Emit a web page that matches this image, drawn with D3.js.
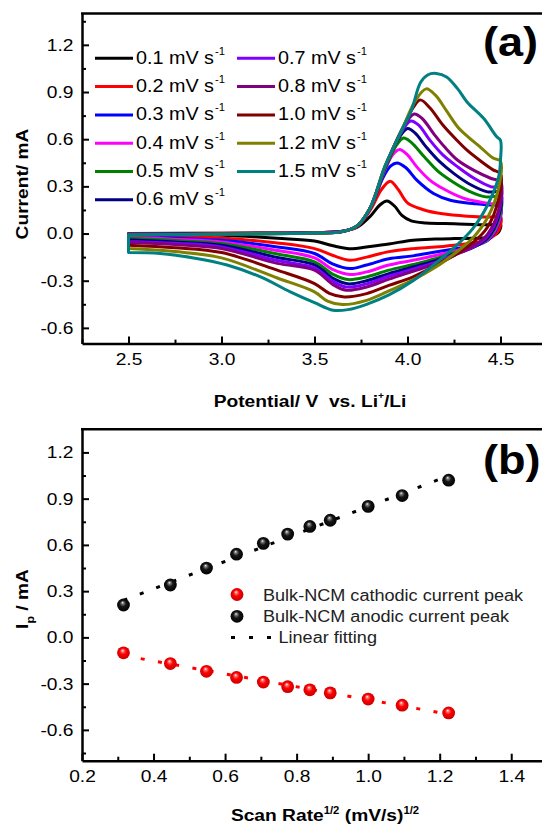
<!DOCTYPE html>
<html>
<head>
<meta charset="utf-8">
<script src="https://cdn.jsdelivr.net/npm/d3@7"></script>
<style>
  body { margin: 0; background: #fff; }
  svg { display: block; }
</style>
</head>
<body>
<svg id="chart" width="542" height="827"></svg>
<script>
'use strict';

// ---- data: panel (a) cyclic voltammograms, [potential V, current mA]
// each loop: anodic sweep 2.5 -> 4.5 V, then cathodic sweep back to 2.5 V
const cv01 = [[2.5,0.000],[3.0,0.002],[3.5,0.006],[3.65,0.014],[3.73,0.04],[3.8,0.11],[3.85,0.18],[3.89,0.207],[3.93,0.175],[3.97,0.115],[4.02,0.08],[4.1,0.067],[4.25,0.062],[4.45,0.056],[4.5,0.06],
  [4.49,0.01],[4.43,-0.025],[4.35,-0.03],[4.25,-0.032],[4.15,-0.035],[4.03,-0.042],[3.9,-0.066],[3.78,-0.085],[3.7,-0.097],[3.6,-0.078],[3.5,-0.048],[3.3,-0.03],[3.0,-0.011],[2.75,-0.008],[2.5,-0.005]];
const cv02 = [[2.5,-0.001],[3.0,0.002],[3.5,0.006],[3.65,0.015],[3.73,0.045],[3.8,0.15],[3.86,0.28],[3.907,0.333],[3.95,0.28],[4.0,0.195],[4.09,0.15],[4.18,0.127],[4.32,0.11],[4.45,0.105],[4.5,0.11],
  [4.49,0.02],[4.43,-0.04],[4.35,-0.06],[4.25,-0.074],[4.15,-0.086],[4.03,-0.096],[3.9,-0.115],[3.78,-0.15],[3.69,-0.17],[3.6,-0.14],[3.5,-0.096],[3.3,-0.06],[3.0,-0.028],[2.75,-0.018],[2.5,-0.011]];
const cv03 = [[2.5,-0.002],[3.0,0.001],[3.5,0.005],[3.65,0.014],[3.73,0.047],[3.8,0.16],[3.87,0.36],[3.91,0.43],[3.943,0.449],[3.99,0.42],[4.05,0.34],[4.14,0.255],[4.23,0.212],[4.36,0.19],[4.46,0.18],[4.5,0.185],
  [4.49,0.06],[4.43,-0.045],[4.35,-0.078],[4.25,-0.098],[4.15,-0.118],[4.03,-0.142],[3.9,-0.16],[3.78,-0.2],[3.69,-0.223],[3.6,-0.195],[3.5,-0.127],[3.3,-0.085],[3.0,-0.043],[2.75,-0.028],[2.5,-0.017]];
const cv04 = [[2.5,-0.003],[3.0,0.0],[3.5,0.005],[3.65,0.014],[3.73,0.048],[3.8,0.163],[3.87,0.38],[3.92,0.5],[3.957,0.535],[4.0,0.5],[4.05,0.424],[4.12,0.34],[4.19,0.286],[4.3,0.225],[4.39,0.201],[4.46,0.19],[4.5,0.2],
  [4.49,0.07],[4.43,-0.04],[4.35,-0.085],[4.25,-0.112],[4.15,-0.14],[4.03,-0.17],[3.9,-0.2],[3.78,-0.244],[3.69,-0.261],[3.6,-0.23],[3.5,-0.155],[3.3,-0.108],[3.0,-0.053],[2.75,-0.036],[2.5,-0.024]];
const cv05 = [[2.5,-0.004],[3.0,0.0],[3.5,0.005],[3.65,0.013],[3.73,0.048],[3.8,0.164],[3.88,0.41],[3.94,0.56],[3.979,0.608],[4.02,0.58],[4.09,0.488],[4.16,0.4],[4.23,0.339],[4.33,0.27],[4.42,0.233],[4.5,0.23],
  [4.49,0.09],[4.43,-0.035],[4.35,-0.088],[4.25,-0.122],[4.15,-0.16],[4.03,-0.197],[3.9,-0.233],[3.78,-0.276],[3.68,-0.293],[3.6,-0.26],[3.5,-0.18],[3.3,-0.13],[3.0,-0.064],[2.75,-0.045],[2.5,-0.032]];
const cv06 = [[2.5,-0.005],[3.0,-0.001],[3.5,0.004],[3.65,0.013],[3.73,0.049],[3.8,0.165],[3.88,0.42],[3.95,0.6],[4.0,0.668],[4.04,0.64],[4.1,0.551],[4.17,0.46],[4.25,0.381],[4.34,0.31],[4.43,0.265],[4.5,0.26],
  [4.49,0.11],[4.43,-0.028],[4.35,-0.09],[4.25,-0.13],[4.15,-0.172],[4.03,-0.213],[3.9,-0.255],[3.78,-0.3],[3.68,-0.32],[3.6,-0.285],[3.5,-0.2],[3.3,-0.152],[3.0,-0.074],[2.75,-0.054],[2.5,-0.04]];
const cv07 = [[2.5,-0.006],[3.0,-0.002],[3.5,0.004],[3.65,0.012],[3.73,0.049],[3.8,0.165],[3.88,0.42],[3.96,0.63],[4.017,0.716],[4.06,0.69],[4.12,0.594],[4.19,0.5],[4.27,0.424],[4.36,0.35],[4.45,0.297],[4.5,0.29],
  [4.49,0.13],[4.43,-0.018],[4.35,-0.088],[4.25,-0.135],[4.15,-0.183],[4.03,-0.227],[3.9,-0.272],[3.78,-0.32],[3.67,-0.34],[3.6,-0.305],[3.5,-0.219],[3.3,-0.172],[3.0,-0.085],[2.75,-0.062],[2.5,-0.05]];
const cv08 = [[2.5,-0.007],[3.0,-0.002],[3.5,0.004],[3.65,0.012],[3.73,0.05],[3.8,0.165],[3.88,0.42],[3.97,0.66],[4.035,0.76],[4.08,0.73],[4.14,0.636],[4.2,0.55],[4.27,0.466],[4.36,0.4],[4.45,0.35],[4.5,0.33],
  [4.49,0.15],[4.43,-0.005],[4.35,-0.082],[4.25,-0.14],[4.15,-0.193],[4.03,-0.24],[3.9,-0.29],[3.78,-0.34],[3.67,-0.36],[3.6,-0.325],[3.5,-0.233],[3.3,-0.19],[3.0,-0.095],[2.75,-0.07],[2.5,-0.057]];
const cv10 = [[2.5,-0.008],[3.0,-0.003],[3.5,0.003],[3.65,0.012],[3.73,0.05],[3.8,0.165],[3.88,0.43],[3.97,0.66],[4.03,0.8],[4.068,0.85],[4.12,0.8],[4.19,0.69],[4.26,0.6],[4.32,0.53],[4.4,0.455],[4.46,0.405],[4.5,0.38],
  [4.49,0.22],[4.43,0.04],[4.35,-0.06],[4.25,-0.14],[4.15,-0.205],[4.03,-0.275],[3.9,-0.33],[3.78,-0.382],[3.66,-0.403],[3.58,-0.38],[3.5,-0.318],[3.3,-0.233],[3.0,-0.121],[2.75,-0.09],[2.5,-0.074]];
const cv12 = [[2.5,-0.009],[3.0,-0.003],[3.5,0.003],[3.65,0.012],[3.73,0.05],[3.8,0.165],[3.88,0.43],[3.97,0.66],[4.04,0.84],[4.1,0.92],[4.15,0.88],[4.21,0.78],[4.27,0.678],[4.33,0.61],[4.39,0.551],[4.46,0.48],[4.5,0.46],
  [4.49,0.29],[4.43,0.1],[4.35,-0.03],[4.25,-0.13],[4.15,-0.215],[4.03,-0.295],[3.9,-0.365],[3.78,-0.425],[3.65,-0.452],[3.57,-0.43],[3.5,-0.371],[3.3,-0.283],[3.0,-0.155],[2.75,-0.115],[2.5,-0.095]];
const cv15 = [[2.5,-0.01],[3.0,-0.004],[3.5,0.003],[3.65,0.012],[3.73,0.05],[3.8,0.165],[3.88,0.43],[3.97,0.66],[4.02,0.78],[4.07,0.96],[4.11,1.01],[4.155,1.018],[4.21,0.996],[4.27,0.92],[4.32,0.837],[4.41,0.731],[4.48,0.615],[4.5,0.593],
  [4.5,0.47],[4.49,0.36],[4.43,0.18],[4.35,0.03],[4.25,-0.09],[4.15,-0.19],[4.03,-0.3],[3.9,-0.39],[3.78,-0.45],[3.68,-0.484],[3.6,-0.488],[3.5,-0.44],[3.37,-0.371],[3.21,-0.276],[3.03,-0.2],[2.85,-0.155],[2.67,-0.127],[2.5,-0.121]];

const cvLoops = [cv01, cv02, cv03, cv04, cv05, cv06, cv07, cv08, cv10, cv12, cv15];
const scanRates = ["0.1", "0.2", "0.3", "0.4", "0.5", "0.6", "0.7", "0.8", "1.0", "1.2", "1.5"];
const cvColors = ["#000000", "#ff0000", "#0000ff", "#ff00ff", "#008000", "#000080",
                  "#8000ff", "#800080", "#800000", "#808000", "#008080"];

// ---- data: panel (b) peak currents vs sqrt(scan rate)
const sqrtRate = [0.316, 0.447, 0.548, 0.632, 0.707, 0.775, 0.837, 0.894, 1.0, 1.095, 1.225];
const anodicPeak = [0.21, 0.34, 0.45, 0.54, 0.61, 0.67, 0.72, 0.76, 0.85, 0.92, 1.02];
const cathodicPeak = [-0.10, -0.17, -0.22, -0.26, -0.29, -0.32, -0.34, -0.36, -0.40, -0.44, -0.49];

// ---- ticks
const aTicksX = [2.5, 3.0, 3.5, 4.0, 4.5];
const aMinorX = [2.25, 2.75, 3.25, 3.75, 4.25];
const bTicksX = [0.2, 0.4, 0.6, 0.8, 1.0, 1.2, 1.4];
const bMinorX = [0.3, 0.5, 0.7, 0.9, 1.1, 1.3];
const ticksY = [-0.6, -0.3, 0.0, 0.3, 0.6, 0.9, 1.2];
const minorY = [-0.45, -0.15, 0.15, 0.45, 0.75, 1.05, 1.35];
const bMinorY = [-0.75, -0.45, -0.15, 0.15, 0.45, 0.75, 1.05];

const FONT = "'Liberation Sans', Arial, Helvetica, sans-serif";
const SX = 1.13; // the figure's lettering is a bit wider than plain Arial

const svg = d3.select("#chart");
const defs = svg.append("defs");

function grad(id, stops) {
    const g = defs.append("radialGradient").attr("id", id)
        .attr("cx", "50%").attr("cy", "50%").attr("r", "55%")
        .attr("fx", "42%").attr("fy", "30%");
    stops.forEach(function (s) {
        g.append("stop").attr("offset", s[0]).attr("stop-color", s[1]);
    });
}
grad("ballRed", [["0%", "#ffffff"], ["18%", "#ff7070"], ["45%", "#ff0000"], ["100%", "#c00000"]]);
grad("ballBlack", [["0%", "#eeeeee"], ["18%", "#777777"], ["45%", "#151515"], ["100%", "#000000"]]);

// text helper: wide lettering, optionally rotated
function label(parent, x, y, size, weight, anchor, rotate, sx) {
    return parent.append("text")
        .attr("transform", "translate(" + x + "," + y + ")" + (rotate ? " rotate(-90)" : "") + " scale(" + (sx || SX) + ",1)")
        .attr("font-family", FONT)
        .attr("font-size", size)
        .attr("font-weight", weight)
        .attr("text-anchor", anchor)
        .style("white-space", "pre");
}

function drawAxes(g, x, y, majX, minX, majY, minY) {
    const x0 = x.range()[0], x1 = x.range()[1];
    const y0 = y.range()[0], y1 = y.range()[1];
    const fmt = function (d) { return d.toFixed(1); };

    const bottom = g.append("g").attr("transform", "translate(0," + y0 + ")")
        .call(d3.axisBottom(x).tickValues(majX).tickSizeInner(-7).tickSizeOuter(0).tickPadding(9).tickFormat(fmt));
    g.append("g").attr("transform", "translate(0," + y0 + ")")
        .call(d3.axisBottom(x).tickValues(minX).tickSize(-4).tickFormat(""))
        .select(".domain").remove();

    const left = g.append("g").attr("transform", "translate(" + x0 + ",0)")
        .call(d3.axisLeft(y).tickValues(majY).tickSizeInner(-7).tickSizeOuter(0).tickPadding(9).tickFormat(fmt));
    g.append("g").attr("transform", "translate(" + x0 + ",0)")
        .call(d3.axisLeft(y).tickValues(minY).tickSize(-4).tickFormat(""))
        .select(".domain").remove();

    [bottom, left].forEach(function (a) {
        a.attr("font-family", FONT).attr("font-size", 17);
        a.selectAll("text").attr("fill", "#000");
    });
    bottom.selectAll("text").attr("transform", "scale(" + SX + ",1)");
    left.selectAll("text").attr("x", -8.5 / SX).attr("transform", "scale(" + SX + ",1)");

    g.selectAll(".domain").attr("stroke-width", 2.5);
    g.selectAll(".tick line").attr("stroke-width", 2);

    g.append("line").attr("x1", x0 - 1).attr("x2", x1).attr("y1", y1).attr("y2", y1)
        .attr("stroke", "#000").attr("stroke-width", 2.5);
}

// ================= panel (a)
const xA = d3.scaleLinear().domain([2.25, 4.75]).range([82, 547]);
const yA = d3.scaleLinear().domain([-0.7, 1.4]).range([343.6, 13.4]);
const gA = svg.append("g");

const cvLine = d3.line()
    .x(function (d) { return xA(d[0]); })
    .y(function (d) { return yA(d[1]); })
    .curve(d3.curveCatmullRom.alpha(0.5));

gA.append("g").selectAll("path")
    .data(cvLoops)
    .enter().append("path")
    .attr("d", function (d) { return cvLine(d) + "Z"; })
    .attr("fill", "none")
    .attr("stroke", function (d, i) { return cvColors[i]; })
    .attr("stroke-width", 3)
    .attr("stroke-linejoin", "round");

drawAxes(gA, xA, yA, aTicksX, aMinorX, ticksY, minorY);

// legend (a)
const legA = gA.append("g");
scanRates.forEach(function (r, i) {
    const col = i < 6 ? 0 : 1;
    const row = i < 6 ? i : i - 6;
    const lx = col === 0 ? 95 : 237;
    const ly = 58.3 + row * 28.3;
    legA.append("line")
        .attr("x1", lx).attr("x2", lx + 38).attr("y1", ly).attr("y2", ly)
        .attr("stroke", cvColors[i]).attr("stroke-width", 3);
    const t = label(legA, lx + 41, ly + 5.5, 17.5, "normal", "start", false);
    t.append("tspan").text(r + " mV s");
    t.append("tspan").attr("font-size", 10).attr("dy", -9).attr("dx", 1).text("-1");
});

label(gA, 483, 56, 41, "bold", "start", false, 1.1).text("(a)");

const yTitleA = label(gA, 28, 184, 17, "bold", "middle", true).text("Current/ mA");
const xTitleA = label(gA, 310, 407, 17, "bold", "middle", false);
xTitleA.append("tspan").text("Potential/ V  vs. Li");
xTitleA.append("tspan").attr("font-size", 9).attr("dy", -8).text("+");
xTitleA.append("tspan").attr("dy", 8).text("/Li");

// ================= panel (b)
const xB = d3.scaleLinear().domain([0.2, 1.5]).range([82, 547]);
const yB = d3.scaleLinear().domain([-0.8, 1.35]).range([760.7, 429.3]);
const gB = svg.append("g");

drawAxes(gB, xB, yB, bTicksX, bMinorX, ticksY, bMinorY);

// least-squares linear fitting of each peak series
function fit(xs, ys) {
    const mx = d3.mean(xs), my = d3.mean(ys);
    let sxy = 0, sxx = 0;
    xs.forEach(function (xv, i) {
        sxy += (xv - mx) * (ys[i] - my);
        sxx += (xv - mx) * (xv - mx);
    });
    const k = sxy / sxx;
    return function (xv) { return my + k * (xv - mx); };
}
const xEnds = d3.extent(sqrtRate);
[[anodicPeak, "#000"], [cathodicPeak, "#ff0000"]].forEach(function (s) {
    const f = fit(sqrtRate, s[0]);
    gB.append("line")
        .attr("x1", xB(xEnds[0])).attr("y1", yB(f(xEnds[0])))
        .attr("x2", xB(xEnds[1])).attr("y2", yB(f(xEnds[1])))
        .attr("stroke", s[1]).attr("stroke-width", 3)
        .attr("stroke-dasharray", "4 13.5");
});

gB.append("g").selectAll("circle")
    .data(sqrtRate)
    .enter().append("circle")
    .attr("cx", function (d) { return xB(d); })
    .attr("cy", function (d, i) { return yB(cathodicPeak[i]); })
    .attr("r", 6.4)
    .attr("fill", "url(#ballRed)");

gB.append("g").selectAll("circle")
    .data(sqrtRate)
    .enter().append("circle")
    .attr("cx", function (d) { return xB(d); })
    .attr("cy", function (d, i) { return yB(anodicPeak[i]); })
    .attr("r", 6.4)
    .attr("fill", "url(#ballBlack)");

// legend (b)
const legB = gB.append("g");
legB.append("circle").attr("cx", 237).attr("cy", 594.5).attr("r", 6.4).attr("fill", "url(#ballRed)");
legB.append("circle").attr("cx", 237).attr("cy", 616.3).attr("r", 6.4).attr("fill", "url(#ballBlack)");
legB.append("line").attr("x1", 231).attr("x2", 272).attr("y1", 637.5).attr("y2", 637.5)
    .attr("stroke", "#000").attr("stroke-width", 3).attr("stroke-dasharray", "4 14");
label(legB, 263, 600.5, 16, "normal", "start", false).attr("fill", "#222").text("Bulk-NCM cathodic current peak");
label(legB, 263, 622.2, 16, "normal", "start", false).attr("fill", "#222").text("Bulk-NCM anodic current peak");
label(legB, 278.5, 643.2, 16, "normal", "start", false).attr("fill", "#222").text("Linear fitting");

label(gB, 483, 474, 41, "bold", "start", false, 1.1).text("(b)");

const yTitleB = label(gB, 28, 599, 17, "bold", "middle", true);
yTitleB.append("tspan").text("I");
yTitleB.append("tspan").attr("font-size", 11).attr("dy", 6).text("p");
yTitleB.append("tspan").attr("dy", -6).text(" / mA");

const xTitleB = label(gB, 325, 821, 17, "bold", "middle", false);
xTitleB.append("tspan").text("Scan Rate");
xTitleB.append("tspan").attr("font-size", 10).attr("dy", -7).text("1/2");
xTitleB.append("tspan").attr("dy", 7).text(" (mV/s)");
xTitleB.append("tspan").attr("font-size", 10).attr("dy", -7).text("1/2");
</script>
</body>
</html>
